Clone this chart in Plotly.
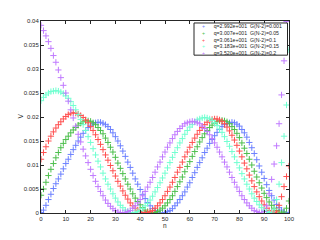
import plotly.graph_objects as go

n = list(range(101))

v_blue = [.0001,.0006,.0016,.0028,.0039,.0051,.0061,.0071,.0081,.0092,
          .0103,.0112,.0122,.0132,.0141,.0150,.0158,.0166,.0172,.0178,
          .0183,.0186,.0188,.0189,.0189,.0187,.0184,.0180,.0174,.0167,
          .0159,.0150,.0140,.0129,.0118,.0106,.0095,.0083,.0071,.0060,
          .0049,.0039,.0030,.0022,.0015,.0009,.0005,.0002,.0000,.0000,
          .0001,.0003,.0005,.0009,.0015,.0021,.0028,.0036,.0044,.0054,
          .0063,.0074,.0084,.0095,.0105,.0115,.0126,.0135,.0145,.0153,
          .0161,.0168,.0174,.0180,.0184,.0186,.0188,.0189,.0188,.0185,
          .0181,.0174,.0167,.0158,.0147,.0136,.0124,.0111,.0098,.0085,
          .0072,.0059,.0047,.0036,.0027,.0018,.0011,.0006,.0002,.0000,
          .0001]

v_green = [.0037,.0050,.0064,.0078,.0091,.0103,.0115,.0126,.0136,.0145,
           .0153,.0160,.0167,.0173,.0178,.0183,.0187,.0190,.0192,.0192,
           .0191,.0188,.0184,.0178,.0172,.0165,.0156,.0147,.0137,.0127,
           .0116,.0104,.0093,.0082,.0071,.0060,.0050,.0040,.0031,.0024,
           .0017,.0011,.0006,.0003,.0001,.0000,.0001,.0003,.0006,.0010,
           .0015,.0021,.0028,.0036,.0045,.0055,.0065,.0075,.0086,.0097,
           .0107,.0118,.0128,.0138,.0148,.0157,.0165,.0172,.0178,.0183,
           .0187,.0190,.0192,.0193,.0192,.0190,.0186,.0180,.0174,.0166,
           .0157,.0146,.0135,.0124,.0112,.0100,.0087,.0075,.0063,.0052,
           .0041,.0032,.0023,.0016,.0010,.0005,.0002,.0000,.0002,.0010,
           .0025]

v_red = [.0112,.0126,.0138,.0150,.0160,.0169,.0177,.0184,.0190,.0196,
         .0201,.0205,.0208,.0209,.0208,.0206,.0203,.0199,.0194,.0188,
         .0180,.0172,.0163,.0153,.0143,.0132,.0121,.0110,.0099,.0088,
         .0077,.0066,.0056,.0046,.0037,.0029,.0021,.0015,.0010,.0006,
         .0003,.0001,.0000,.0001,.0003,.0005,.0010,.0015,.0021,.0028,
         .0036,.0045,.0054,.0064,.0074,.0085,.0095,.0106,.0117,.0127,
         .0137,.0147,.0156,.0164,.0172,.0178,.0184,.0189,.0192,.0195,
         .0196,.0196,.0194,.0191,.0186,.0179,.0171,.0162,.0152,.0141,
         .0129,.0117,.0104,.0092,.0079,.0067,.0055,.0044,.0034,.0025,
         .0017,.0010,.0005,.0002,.0001,.0004,.0016,.0034,.0055,.0076,
         .0098]

v_cyan = [.0234,.0241,.0246,.0250,.0253,.0254,.0255,.0254,.0252,.0249,
          .0244,.0239,.0232,.0224,.0215,.0205,.0195,.0184,.0172,.0159,
          .0147,.0134,.0121,.0108,.0096,.0083,.0071,.0060,.0050,.0040,
          .0031,.0023,.0016,.0011,.0006,.0003,.0001,.0000,.0001,.0003,
          .0005,.0009,.0015,.0020,.0027,.0035,.0044,.0053,.0063,.0073,
          .0083,.0094,.0105,.0116,.0126,.0136,.0146,.0155,.0164,.0172,
          .0179,.0184,.0190,.0194,.0196,.0198,.0199,.0198,.0196,.0193,
          .0188,.0182,.0175,.0168,.0159,.0149,.0139,.0128,.0117,.0105,
          .0094,.0082,.0071,.0060,.0050,.0040,.0031,.0024,.0017,.0011,
          .0006,.0003,.0001,.0000,.0008,.0028,.0060,.0105,.0160,.0225,
          .0340]

v_purple = [.0391,.0380,.0369,.0357,.0343,.0328,.0314,.0298,.0282,.0266,
            .0250,.0233,.0215,.0198,.0181,.0164,.0148,.0133,.0119,.0105,
            .0091,.0078,.0066,.0055,.0045,.0036,.0027,.0020,.0014,.0009,
            .0005,.0002,.0001,.0000,.0001,.0003,.0005,.0010,.0015,.0021,
            .0028,.0036,.0045,.0054,.0064,.0074,.0085,.0096,.0106,.0117,
            .0127,.0137,.0146,.0155,.0163,.0170,.0176,.0181,.0186,.0188,
            .0190,.0191,.0190,.0188,.0186,.0181,.0176,.0170,.0163,.0155,
            .0146,.0137,.0127,.0117,.0106,.0096,.0085,.0074,.0064,.0054,
            .0045,.0036,.0028,.0021,.0015,.0010,.0005,.0003,.0001,.0000,
            .0003,.0015,.0040,.0070,.0102,.0140,.0186,.0246,.0317,.0399,
            .0480]

labels = ["q=2.992e+001  G(N-2)=0.001",
          "q=3.007e+001  G(N-2)=0.05",
          "q=3.061e+001  G(N-2)=0.1",
          "q=3.183e+001  G(N-2)=0.15",
          "q=3.520e+001  G(N-2)=0.2"]
series = [v_blue, v_green, v_red, v_cyan, v_purple]
colors = ["#6c80ff", "#4cbf4c", "#ff5050", "#70ffd0", "#c07aff"]

x_ticks = [0, 10, 20, 30, 40, 50, 60, 70, 80, 90, 100]
y_ticks = [0, 0.005, 0.01, 0.015, 0.02, 0.025, 0.03, 0.035, 0.04]
y_ticktext = ["0", "0.005", "0.01", "0.015", "0.02", "0.025", "0.03", "0.035", "0.04"]

FONT = "Liberation Sans, Arial, sans-serif"

# the page body has an 8px margin, so the figure is drawn 312x232 at offset (8,8)
W, H = 312, 232
L, R, T, B = 33, 31, 10, 27
PW, PH = W - L - R, H - T - B

fig = go.Figure()
for vals, col, lab in zip(series, colors, labels):
    fig.add_trace(go.Scatter(
        x=n, y=vals, mode="markers", name=lab,
        marker=dict(symbol="cross-thin", size=4.5, color=col,
                    line=dict(width=1, color=col)),
        showlegend=False))

axis_common = dict(showline=True, linecolor="#262626", linewidth=1, mirror="ticks",
                   ticks="inside", ticklen=3, tickwidth=1, tickcolor="#262626",
                   showgrid=False, zeroline=False,
                   tickfont=dict(family=FONT, size=6, color="#262626"))

fig.update_layout(
    width=W, height=H,
    margin=dict(l=L, r=R, t=T, b=B),
    paper_bgcolor="white", plot_bgcolor="white",
    xaxis=dict(range=[0, 100], tickvals=x_ticks, **axis_common),
    yaxis=dict(range=[0, 0.04], tickvals=y_ticks, ticktext=y_ticktext, **axis_common),
)

def px_x(px):  # page pixel -> paper x
    return (px - 8 - L) / PW

def px_y(py):  # page pixel -> paper y
    return (H - B - (py - 8)) / PH

# legend box
fig.add_shape(type="rect", xref="paper", yref="paper",
              x0=px_x(194), x1=px_x(287.5), y0=px_y(52.7), y1=px_y(20),
              fillcolor="white", line=dict(color="#262626", width=1), layer="above")

gap = "&nbsp;" * 6
legend_text = "<br>".join(
    f"<span style='color:{c}'>+</span>{gap}{lab}" for c, lab in zip(colors, labels))
fig.add_annotation(xref="paper", yref="paper", x=px_x(199.8), y=px_y(36.6),
                   text=legend_text, showarrow=False, xanchor="left", yanchor="middle",
                   align="left", font=dict(family=FONT, size=5.2, color="#262626"))

# axis labels
fig.add_annotation(xref="paper", yref="paper", x=px_x(165), y=px_y(225.5),
                   text="n", showarrow=False, xanchor="center", yanchor="middle",
                   font=dict(family=FONT, size=6.5, color="#262626"))
fig.add_annotation(xref="paper", yref="paper", x=px_x(21), y=px_y(115),
                   text="V", showarrow=False, xanchor="center", yanchor="middle",
                   textangle=-90, font=dict(family=FONT, size=6.5, color="#262626"))

fig.write_html("out.html")
